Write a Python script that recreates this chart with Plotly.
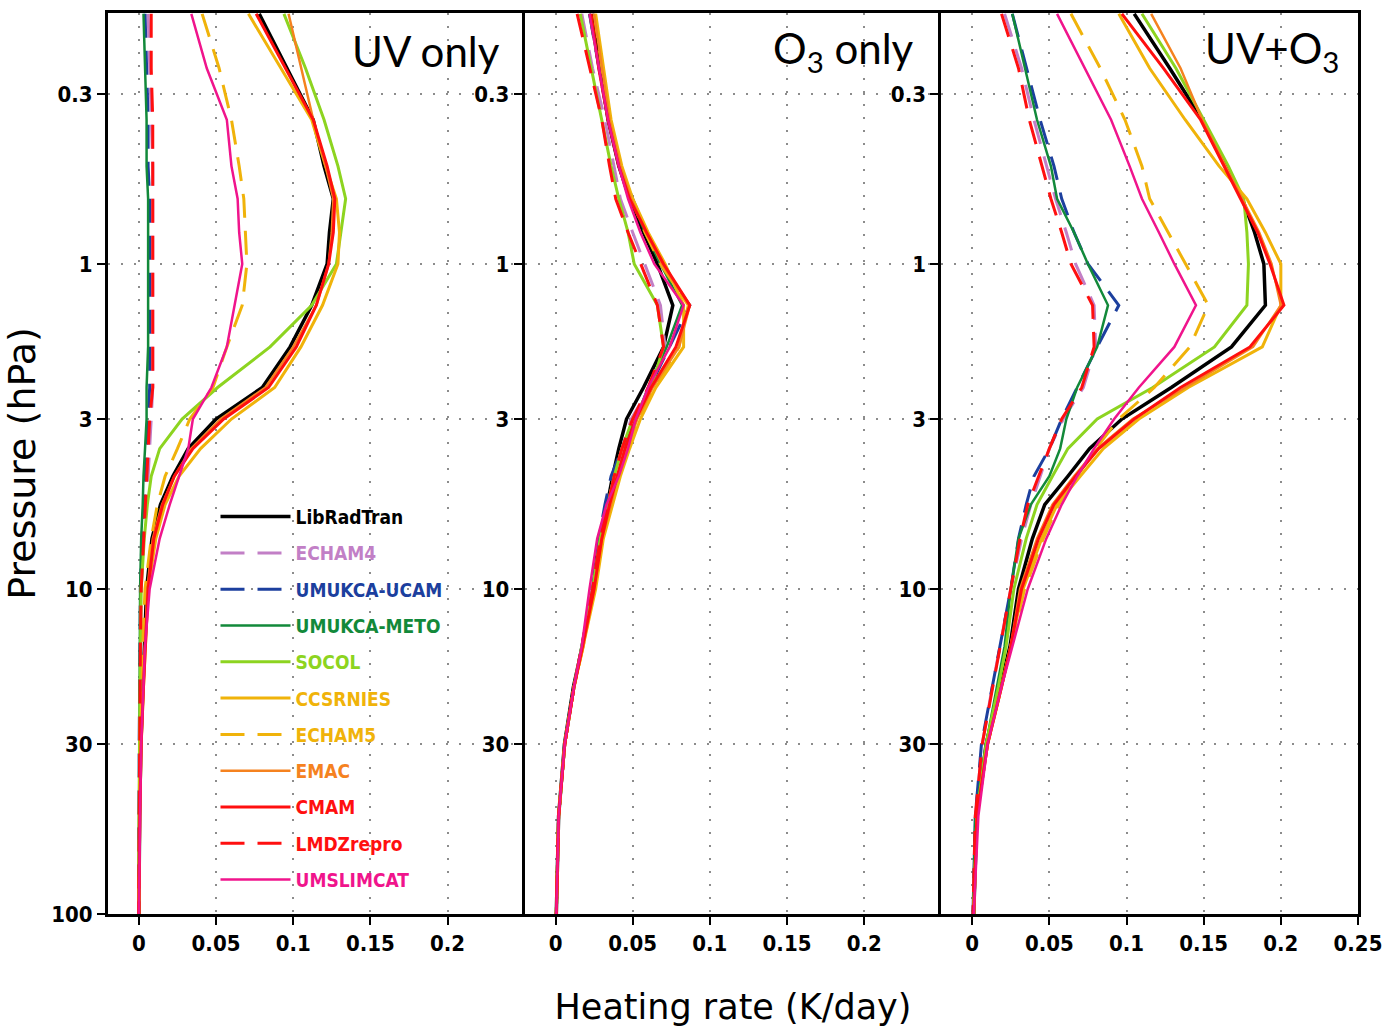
import math
import plotly.graph_objects as go

# ---------------- data ----------------
PRESSURE = [0.17, 0.25, 0.36, 0.5, 0.63, 0.8, 1.0, 1.34, 1.8, 2.4, 3.0, 3.7, 4.5, 5.5, 7, 10, 15, 20, 30, 50, 100]

MODELS = ["LibRadTran", "ECHAM4", "UMUKCA-UCAM", "UMUKCA-METO", "SOCOL", "CCSRNIES",
          "ECHAM5", "EMAC", "CMAM", "LMDZrepro", "UMSLIMCAT"]
PANEL_TITLES = ["UV only", "O<sub>3</sub> only", "UV+O<sub>3</sub>"]
X_TICKS = [0, 0.05, 0.1, 0.15, 0.2, 0.25]
X_TICK_LABELS = ["0", "0.05", "0.1", "0.15", "0.2", "0.25"]
Y_TICKS = [0.3, 1, 3, 10, 30, 100]
Y_TICK_LABELS = ["0.3", "1", "3", "10", "30", "100"]

# UV only (K/day)
UV_LIBRADTRAN = [0.078, 0.096, 0.113, 0.120, 0.126, 0.1235, 0.122, 0.112, 0.098, 0.080, 0.050, 0.032, 0.022, 0.014, 0.0085, 0.005, 0.0035, 0.0025, 0.0013, 0.0005, 0.0]
UV_ECHAM4 = [0.006, 0.007, 0.008, 0.009, 0.009, 0.009, 0.009, 0.009, 0.009, 0.009, 0.008, 0.007, 0.006, 0.004, 0.003, 0.0015, 0.001, 0.0007, 0.0004, 0.0002, 0.0]
UV_UMUKCA_UCAM = [0.004, 0.005, 0.006, 0.006, 0.007, 0.007, 0.007, 0.007, 0.007, 0.007, 0.006, 0.005, 0.004, 0.003, 0.002, 0.001, 0.0006, 0.0004, 0.0002, 0.0001, 0.0]
UV_UMUKCA_METO = [0.003, 0.004, 0.005, 0.005, 0.006, 0.006, 0.006, 0.006, 0.006, 0.005, 0.005, 0.004, 0.003, 0.0025, 0.0015, 0.0008, 0.0005, 0.0003, 0.0002, 0.0001, 0.0]
UV_SOCOL = [0.094, 0.108, 0.120, 0.129, 0.134, 0.131, 0.128, 0.112, 0.085, 0.051, 0.028, 0.0135, 0.008, 0.0055, 0.0035, 0.0015, 0.001, 0.0007, 0.0004, 0.0002, 0.0]
UV_CCSRNIES = [0.071, 0.092, 0.112, 0.121, 0.128, 0.130, 0.129, 0.119, 0.105, 0.088, 0.060, 0.040, 0.026, 0.017, 0.011, 0.006, 0.004, 0.003, 0.0015, 0.0006, 0.0]
UV_ECHAM5 = [0.041, 0.052, 0.060, 0.065, 0.068, 0.069, 0.070, 0.067, 0.057, 0.048, 0.033, 0.025, 0.017, 0.012, 0.008, 0.004, 0.0025, 0.002, 0.001, 0.0003, 0.0]
UV_EMAC = [0.097, 0.105, 0.113, 0.121, 0.126, 0.125, 0.123, 0.115, 0.100, 0.082, 0.053, 0.034, 0.023, 0.015, 0.009, 0.0055, 0.0037, 0.0027, 0.0014, 0.0005, 0.0]
UV_CMAM = [0.076, 0.095, 0.113, 0.122, 0.127, 0.126, 0.123, 0.115, 0.102, 0.084, 0.055, 0.035, 0.023, 0.0155, 0.0097, 0.006, 0.004, 0.003, 0.0015, 0.0006, 0.0]
UV_LMDZREPRO = [0.008, 0.008, 0.009, 0.009, 0.009, 0.009, 0.009, 0.009, 0.009, 0.009, 0.007, 0.006, 0.005, 0.004, 0.003, 0.0015, 0.001, 0.0007, 0.0004, 0.0002, 0.0]
UV_UMSLIMCAT = [0.034, 0.044, 0.057, 0.060, 0.064, 0.065, 0.067, 0.062, 0.057, 0.047, 0.035, 0.032, 0.026, 0.020, 0.0135, 0.007, 0.004, 0.003, 0.0015, 0.0008, 0.0]

# O3 only (K/day)
O3_LIBRADTRAN = [0.024, 0.029, 0.034, 0.041, 0.048, 0.057, 0.066, 0.076, 0.070, 0.057, 0.046, 0.041, 0.037, 0.0335, 0.028, 0.0245, 0.0174, 0.0116, 0.0058, 0.002, 0.0005]
O3_ECHAM4 = [0.017, 0.024, 0.032, 0.038, 0.042, 0.050, 0.058, 0.068, 0.071, 0.061, 0.049, 0.043, 0.038, 0.034, 0.029, 0.024, 0.017, 0.012, 0.006, 0.002, 0.0005]
O3_UMUKCA_UCAM = [0.022, 0.028, 0.034, 0.042, 0.050, 0.059, 0.068, 0.087, 0.074, 0.061, 0.052, 0.043, 0.036, 0.032, 0.028, 0.024, 0.017, 0.012, 0.006, 0.002, 0.0005]
O3_UMUKCA_METO = [0.022, 0.028, 0.034, 0.042, 0.049, 0.058, 0.068, 0.082, 0.072, 0.060, 0.052, 0.046, 0.040, 0.034, 0.029, 0.024, 0.017, 0.012, 0.006, 0.002, 0.0005]
O3_SOCOL = [0.016, 0.023, 0.030, 0.036, 0.041, 0.047, 0.051, 0.066, 0.070, 0.062, 0.050, 0.043, 0.038, 0.034, 0.029, 0.024, 0.017, 0.012, 0.006, 0.002, 0.0005]
O3_CCSRNIES = [0.026, 0.031, 0.036, 0.043, 0.050, 0.060, 0.071, 0.083, 0.083, 0.065, 0.055, 0.048, 0.042, 0.037, 0.031, 0.026, 0.018, 0.012, 0.006, 0.002, 0.0005]
O3_ECHAM5 = [0.025, 0.030, 0.035, 0.042, 0.049, 0.058, 0.068, 0.086, 0.080, 0.064, 0.054, 0.047, 0.041, 0.036, 0.030, 0.025, 0.018, 0.012, 0.006, 0.002, 0.0005]
O3_EMAC = [0.025, 0.030, 0.035, 0.042, 0.049, 0.059, 0.069, 0.087, 0.080, 0.063, 0.053, 0.046, 0.040, 0.036, 0.030, 0.025, 0.018, 0.012, 0.006, 0.002, 0.0005]
O3_CMAM = [0.023, 0.028, 0.034, 0.041, 0.048, 0.059, 0.070, 0.087, 0.078, 0.062, 0.052, 0.045, 0.040, 0.035, 0.030, 0.025, 0.0175, 0.012, 0.006, 0.002, 0.0005]
O3_LMDZREPRO = [0.014, 0.022, 0.030, 0.035, 0.039, 0.047, 0.055, 0.066, 0.070, 0.060, 0.050, 0.043, 0.038, 0.034, 0.029, 0.024, 0.017, 0.012, 0.006, 0.002, 0.0005]
O3_UMSLIMCAT = [0.022, 0.028, 0.034, 0.041, 0.047, 0.055, 0.064, 0.083, 0.074, 0.060, 0.052, 0.047, 0.041, 0.033, 0.027, 0.022, 0.017, 0.012, 0.006, 0.002, 0.0005]

# UV + O3 (K/day)
UVO3_LIBRADTRAN = [0.105, 0.128, 0.149, 0.165, 0.175, 0.183, 0.189, 0.190, 0.168, 0.129, 0.097, 0.076, 0.062, 0.047, 0.039, 0.030, 0.0245, 0.018, 0.009, 0.003, 0.001]
UVO3_ECHAM4 = [0.021, 0.032, 0.040, 0.048, 0.054, 0.061, 0.067, 0.079, 0.080, 0.072, 0.059, 0.050, 0.044, 0.038, 0.032, 0.025, 0.018, 0.013, 0.0065, 0.002, 0.0005]
UVO3_UMUKCA_UCAM = [0.026, 0.035, 0.044, 0.053, 0.058, 0.066, 0.075, 0.095, 0.081, 0.068, 0.058, 0.050, 0.040, 0.035, 0.030, 0.025, 0.018, 0.013, 0.006, 0.002, 0.0005]
UVO3_UMUKCA_METO = [0.026, 0.034, 0.042, 0.051, 0.055, 0.066, 0.075, 0.088, 0.081, 0.068, 0.061, 0.057, 0.050, 0.038, 0.030, 0.025, 0.021, 0.016, 0.009, 0.002, 0.0005]
UVO3_SOCOL = [0.110, 0.132, 0.150, 0.166, 0.176, 0.178, 0.179, 0.178, 0.157, 0.117, 0.081, 0.062, 0.052, 0.042, 0.035, 0.027, 0.022, 0.017, 0.009, 0.003, 0.001]
UVO3_CCSRNIES = [0.095, 0.115, 0.138, 0.160, 0.178, 0.190, 0.200, 0.200, 0.188, 0.140, 0.108, 0.085, 0.070, 0.055, 0.045, 0.033, 0.025, 0.019, 0.010, 0.003, 0.001]
UVO3_ECHAM5 = [0.064, 0.083, 0.099, 0.110, 0.115, 0.127, 0.138, 0.153, 0.141, 0.118, 0.095, 0.080, 0.068, 0.056, 0.046, 0.034, 0.025, 0.019, 0.010, 0.003, 0.001]
UVO3_EMAC = [0.116, 0.135, 0.149, 0.164, 0.175, 0.186, 0.194, 0.200, 0.182, 0.138, 0.104, 0.081, 0.066, 0.052, 0.042, 0.031, 0.025, 0.019, 0.010, 0.003, 0.001]
UVO3_CMAM = [0.097, 0.124, 0.148, 0.163, 0.174, 0.185, 0.193, 0.202, 0.180, 0.135, 0.105, 0.082, 0.067, 0.053, 0.043, 0.032, 0.025, 0.019, 0.010, 0.003, 0.001]
UVO3_LMDZREPRO = [0.019, 0.030, 0.037, 0.045, 0.051, 0.058, 0.064, 0.078, 0.079, 0.071, 0.058, 0.050, 0.043, 0.036, 0.031, 0.025, 0.018, 0.013, 0.0065, 0.002, 0.0005]
UVO3_UMSLIMCAT = [0.055, 0.073, 0.090, 0.102, 0.110, 0.121, 0.131, 0.145, 0.131, 0.108, 0.092, 0.079, 0.068, 0.058, 0.048, 0.036, 0.026, 0.019, 0.010, 0.004, 0.001]

# ---------------- styles ----------------
STYLE = {
    "LibRadTran": ("#000000", "solid", 3.5),
    "ECHAM4": ("#c27fc6", "24px,13px", 3),
    "UMUKCA-UCAM": ("#1c3f9e", "24px,13px", 3),
    "UMUKCA-METO": ("#12893a", "solid", 2.5),
    "SOCOL": ("#8dd420", "solid", 3),
    "CCSRNIES": ("#f0b30a", "solid", 3),
    "ECHAM5": ("#f0b30a", "24px,13px", 3),
    "EMAC": ("#f5821f", "solid", 2.5),
    "CMAM": ("#ff0f0f", "solid", 3),
    "LMDZrepro": ("#ff0f0f", "24px,13px", 3),
    "UMSLIMCAT": ("#f0148c", "solid", 2.5),
}

PANELS = [
    [UV_LIBRADTRAN, UV_ECHAM4, UV_UMUKCA_UCAM, UV_UMUKCA_METO, UV_SOCOL, UV_CCSRNIES,
     UV_ECHAM5, UV_EMAC, UV_CMAM, UV_LMDZREPRO, UV_UMSLIMCAT],
    [O3_LIBRADTRAN, O3_ECHAM4, O3_UMUKCA_UCAM, O3_UMUKCA_METO, O3_SOCOL, O3_CCSRNIES,
     O3_ECHAM5, O3_EMAC, O3_CMAM, O3_LMDZREPRO, O3_UMSLIMCAT],
    [UVO3_LIBRADTRAN, UVO3_ECHAM4, UVO3_UMUKCA_UCAM, UVO3_UMUKCA_METO, UVO3_SOCOL, UVO3_CCSRNIES,
     UVO3_ECHAM5, UVO3_EMAC, UVO3_CMAM, UVO3_LMDZREPRO, UVO3_UMSLIMCAT],
]

TICK_FONT = dict(family="DejaVu Sans Condensed, Liberation Sans Narrow, sans-serif",
                 size=22, color="black", weight="bold")
GRID_COLOR = "#8c8c8c"

fig = go.Figure()

for pi, panel in enumerate(PANELS):
    sfx = "" if pi == 0 else str(pi + 1)
    for mi, name in enumerate(MODELS):
        color, dash, width = STYLE[name]
        fig.add_trace(go.Scatter(
            x=panel[mi], y=PRESSURE, mode="lines",
            line=dict(color=color, dash=dash, width=width),
            name=f'<span style="color:{color}">{name}</span>',
            legendgroup=name, showlegend=(pi == 0),
            xaxis="x" + sfx, yaxis="y" + sfx,
        ))

P_TOP = 0.169
layout = dict(
    width=1392, height=1034,
    margin=dict(l=108, r=27, t=10, b=120),
    paper_bgcolor="white", plot_bgcolor="white",
    showlegend=True,
    legend=dict(x=0.086, y=0.462, xanchor="left", yanchor="top",
                bgcolor="rgba(0,0,0,0)", tracegroupgap=8.6, itemwidth=70,
                font=dict(family="DejaVu Sans Condensed, Liberation Sans Narrow, sans-serif",
                          size=19, weight="bold")),
)

for pi in range(3):
    sfx = "" if pi == 0 else str(pi + 1)
    xt = X_TICKS if pi == 2 else X_TICKS[:-1]
    xl = X_TICK_LABELS if pi == 2 else X_TICK_LABELS[:-1]
    yt = Y_TICKS if pi == 0 else Y_TICKS[:-1]
    yl = Y_TICK_LABELS if pi == 0 else Y_TICK_LABELS[:-1]
    layout["xaxis" + sfx] = dict(
        domain=[pi / 3, (pi + 1) / 3], anchor="y" + sfx, range=[-0.02, 0.25],
        tickvals=xt, ticktext=xl, ticks="outside", ticklen=8, tickwidth=2,
        tickcolor="black", tickfont=TICK_FONT,
        showline=True, linewidth=3, linecolor="black", mirror=True,
        showgrid=True, gridcolor=GRID_COLOR, gridwidth=1.5, griddash="2px,11px",
        zeroline=False,
    )
    layout["yaxis" + sfx] = dict(
        domain=[0, 1], anchor="x" + sfx, type="log",
        range=[math.log10(100), math.log10(P_TOP)],
        tickvals=yt, ticktext=yl, ticks="outside", ticklen=8, tickwidth=2,
        tickcolor="black", tickfont=TICK_FONT,
        showline=True, linewidth=3, linecolor="black", mirror=(pi == 2),
        showgrid=True, gridcolor=GRID_COLOR, gridwidth=1.5, griddash="2px,11px",
        zeroline=False,
    )

layout["yaxis"]["title"] = dict(text="Pressure (hPa)", standoff=10,
                                font=dict(family="DejaVu Sans, sans-serif", size=38, color="black"))
layout["xaxis2"]["title"] = dict(text="Heating rate (K/day)", standoff=40,
                                 font=dict(family="DejaVu Sans, sans-serif", size=35, color="black"))

fig.update_layout(**layout)

TITLE_X = [0.945, 0.94, 0.958]
for pi, title in enumerate(PANEL_TITLES):
    sfx = "" if pi == 0 else str(pi + 1)
    fig.add_annotation(text=title, xref="x" + sfx + " domain", yref="y" + sfx + " domain",
                       x=TITLE_X[pi], y=0.958, xanchor="right", yanchor="middle",
                       showarrow=False,
                       font=dict(family="Lato, Open Sans, sans-serif", size=42, color="black"))

fig.write_html("out.html")
